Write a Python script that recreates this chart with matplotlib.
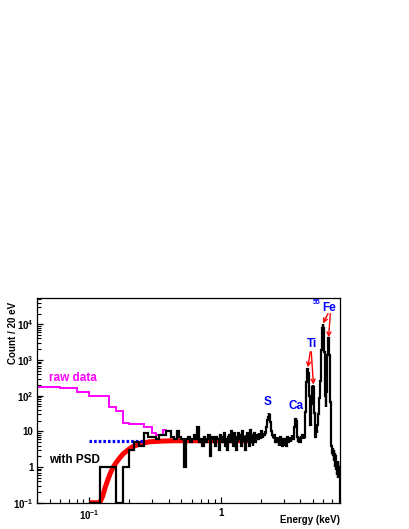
import matplotlib
matplotlib.use('Agg')
import matplotlib.pyplot as plt
import numpy as np
from matplotlib.ticker import LogLocator, NullFormatter

plt.rcParams['font.family'] = ['Liberation Sans', 'DejaVu Sans']
plt.rcParams['mathtext.fontset'] = 'custom'
plt.rcParams['mathtext.rm'] = 'Liberation Sans:bold'
plt.rcParams['mathtext.bf'] = 'Liberation Sans:bold'
plt.rcParams['mathtext.it'] = 'Liberation Sans:bold'

# binning: 20 eV bins from 0.04 keV
E_MIN = 0.04
E_MAX = 8.04
BIN_W = 0.02
edges = np.round(np.arange(E_MIN, E_MAX + BIN_W / 2, BIN_W), 2)

# raw data (no PSD), 0.04 - 0.38 keV; above that it sits on the PSD spectrum
raw_low = [177, 160, 125, 97, 95, 49, 36, 17.5, 16.5, 16.5, 16.5, 13.5, 13.5,
           8.8, 7.9, 7.9, 10.9]

# with PSD, 0.10 - 8.04 keV, 10 bins per row
psd = [
    0, 1, 1, 0, 1, 3, 5, 4, 9, 7,
    7, 6, 8, 8, 10, 10, 7, 6, 10, 7,
    6, 1, 6, 7, 5, 6, 8, 6, 13, 5,
    6, 4, 7, 5, 6, 8, 2, 6, 7, 5,
    4, 7, 6, 3, 8, 6, 5, 7, 9, 4,
    6, 3, 7, 8, 5, 10, 6, 4, 9, 6,
    3, 7, 5, 9, 6, 8, 4, 10, 5, 7,
    6, 3, 8, 6, 9, 5, 7, 4, 11, 6,
    5, 8, 4, 7, 6, 9, 5, 7, 6, 8,
    7, 6, 9, 7, 8, 6, 10, 8, 7, 9,
    8, 9, 8, 10, 9, 11, 13, 16, 21, 26,
    30, 32, 29, 24, 18, 13, 10, 9, 8, 7,
    7, 6, 8, 6, 5, 7, 6, 5, 7, 6,
    5, 6, 7, 4, 6, 5, 7, 5, 4, 6,
    5, 4, 6, 5, 6, 4, 5, 6, 4, 5,
    6, 5, 4, 6, 5, 7, 5, 6, 5, 6,
    7, 6, 5, 7, 6, 5, 7, 6, 7, 8,
    7, 6, 7, 6, 8, 10, 13, 16, 20, 22,
    23, 22, 19, 15, 12, 9, 7, 6, 5, 6,
    5, 6, 5, 6, 7, 6, 5, 7, 6, 7,
    6, 7, 6, 8, 7, 6, 8, 7, 6, 7,
    7, 9, 13, 20, 35, 60, 100, 160, 235, 325,
    420, 505, 565, 580, 565, 505, 420, 325, 235, 160,
    99, 60, 35, 20, 15, 14, 17, 24, 38, 57,
    82, 112, 143, 170, 189, 196, 189, 170, 143, 112,
    75, 50, 33, 21, 13, 9, 7, 7, 8, 9,
    8, 10, 9, 11, 12, 14, 15, 18, 21, 25,
    30, 36, 44, 55, 68, 85, 105, 130, 160, 200,
    260, 360, 520, 800, 1250, 1850, 2700, 3750, 5050, 6450,
    7805, 8955, 9735, 10005, 9735, 8955, 7805, 6425, 5005, 3695,
    2585, 1710, 1050, 600, 320, 170, 95, 62, 50, 48,
    55, 75, 126, 230, 390, 640, 980, 1420, 1950, 2550,
    3100, 3550, 3900, 4000, 3900, 3550, 3100, 2550, 1950, 1420,
    980, 640, 390, 230, 126, 67, 36, 19, 11, 7,
    5, 4, 3, 4, 3, 4, 3, 2.5, 3, 3.5,
    3, 2, 3.5, 2.5, 2, 3, 1.5, 2.5, 2, 3,
    2, 2.5, 1.2, 2, 2.5, 1, 2, 1.5, 1, 2,
    1.5, 0.8, 2, 1, 1.5, 0.7, 1.5, 1, 0.6, 1.2,
    1, 1.5, 0.6, 0.9, 1.2, 0.5, 1, 0.7, 0.5, 0.9,
    0.6, 1, 0.5, 0.7, 0, 0, 0,
]

# threshold fit curve
fit_e = [0.10, 0.12, 0.126, 0.132, 0.138, 0.143, 0.150, 0.158, 0.169, 0.18,
         0.196, 0.21, 0.228, 0.25, 0.287, 0.342, 0.40, 0.45, 1.8]
fit_y = [0.1, 0.1, 0.15, 0.27, 0.43, 0.62, 0.92, 1.25, 1.75, 2.3,
         3.0, 3.6, 4.1, 4.6, 5.1, 5.3, 5.4, 5.45, 5.45]

# flat level (blue dotted)
flat_e = [0.10, 0.26]
flat_y = [5.4, 5.4]

Y_MIN = 0.1
Y_MAX = 5.46e4

fig = plt.figure(figsize=(4.09, 5.29), dpi=100)
ax = fig.add_axes([0.0905, 0.0497, 0.7408, 0.387])

i0 = int(round((0.10 - E_MIN) / BIN_W))
i_raw = int(round((0.38 - 0.10) / BIN_W))
raw = np.array(raw_low + psd[i_raw:], dtype=float)
psd_arr = np.array(psd, dtype=float)

ax.stairs(np.maximum(raw, Y_MIN), edges, baseline=None, color='#ff00ff', lw=1.4)
ax.plot(fit_e, fit_y, color='red', lw=3.6, solid_capstyle='butt', zorder=3)
ax.plot(flat_e, flat_y, color='blue', lw=2.3, linestyle=(0, (0.8, 0.65)), zorder=3)
ax.stairs(np.maximum(psd_arr, Y_MIN), edges[i0:], baseline=None, color='black', lw=1.6, zorder=4)

ax.set_xscale('log')
ax.set_yscale('log')
ax.set_xlim(E_MIN, E_MAX)
ax.set_ylim(Y_MIN, Y_MAX)

ax.set_yticks([0.1, 1, 10, 100, 1e3, 1e4],
              labels=[r'$10^{-1}$', '1', '10', r'$10^{2}$', r'$10^{3}$', r'$10^{4}$'])
ax.set_xticks([0.1, 1], labels=[r'$10^{-1}$', '1'])
for axis in (ax.xaxis, ax.yaxis):
    axis.set_minor_locator(LogLocator(base=10, subs=np.arange(2, 10) * 1.0, numticks=50))
    axis.set_minor_formatter(NullFormatter())
ax.tick_params(which='major', direction='in', length=4.5, width=0.9, labelsize=7,
               top=False, right=False)
ax.tick_params(which='minor', direction='in', length=2.7, width=0.8, top=False, right=False)
ax.tick_params(axis='y', pad=2.5)
ax.tick_params(axis='x', pad=4)
for lbl in ax.get_xticklabels() + ax.get_yticklabels():
    lbl.set_fontweight('bold')
for sp in ax.spines.values():
    sp.set_linewidth(0.9)

fig.text(13 / 409, 1 - 302 / 529, 'Count / 20 eV', rotation=90, ha='center', va='top',
         fontsize=7, fontweight='bold')
fig.text(340 / 409, 1 - 520 / 529, 'Energy (keV)', ha='right', va='center',
         fontsize=7, fontweight='bold')

ax.text(0.0495, 317, 'raw data', color='#ff00ff', fontsize=8.5, fontweight='bold',
        ha='left', va='center')
ax.text(0.0495, 1.57, 'with PSD', color='black', fontsize=8.5, fontweight='bold',
        ha='left', va='center')
ax.text(2.28, 67, 'S', color='blue', fontsize=8.5, fontweight='bold', ha='center', va='center')
ax.text(3.74, 51, 'Ca', color='blue', fontsize=8.5, fontweight='bold', ha='center', va='center')
ax.text(4.92, 2735, 'Ti', color='blue', fontsize=8.5, fontweight='bold', ha='center', va='center')
ax.text(6.59, 2.9e4, 'Fe', color='blue', fontsize=8.5, fontweight='bold', ha='center', va='center')
ax.text(5.36, 4.1e4, '55', color='blue', fontsize=5, fontweight='bold', ha='center', va='center')

arrows = [((4.78, 1700), (4.58, 620)), ((4.86, 1700), (5.05, 205)),
          ((6.52, 2.0e4), (5.98, 1.06e4)), ((6.79, 2.0e4), (6.58, 4300))]
for start, tip in arrows:
    ax.annotate('', xy=tip, xytext=start,
                arrowprops=dict(arrowstyle='->', color='red', lw=1.0,
                                shrinkA=0, shrinkB=0, mutation_scale=7))

fig.savefig('out.png', dpi=100)
